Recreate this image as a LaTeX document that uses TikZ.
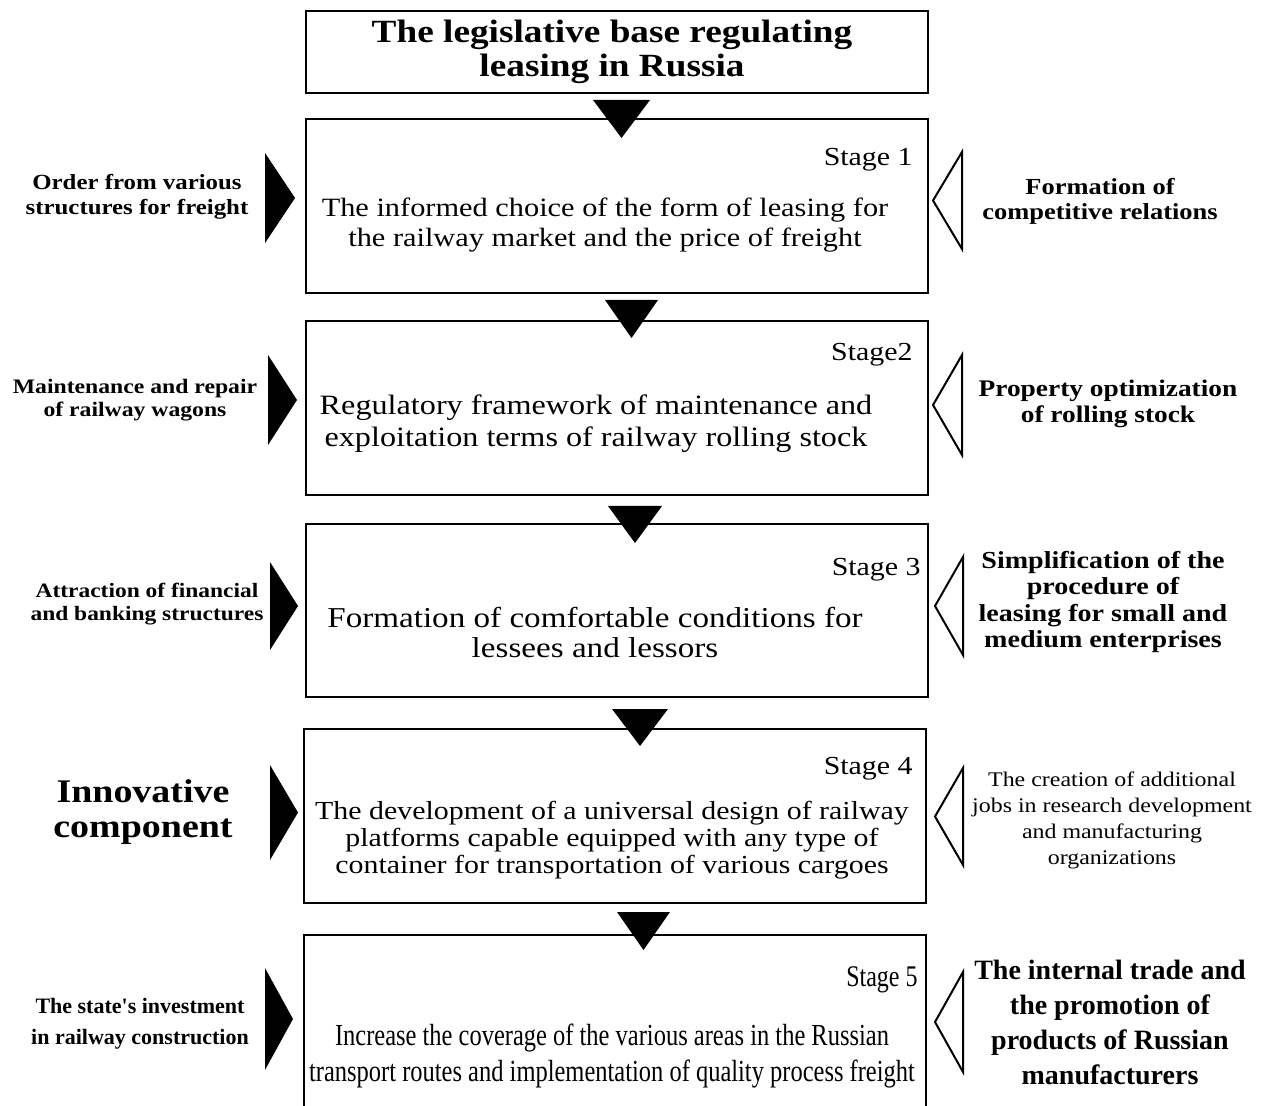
\documentclass[tikz,border=0pt]{standalone}
\usepackage{fontspec}
\setmainfont{Liberation Serif}
\newfontfamily\wideserif[FakeStretch=1.15]{Liberation Serif}
\newfontfamily\narrowserif[FakeStretch=0.8]{Liberation Serif}
\newcommand{\fsz}[2]{\fontsize{#1}{#2}\selectfont}
\tikzset{
    stagebox/.style={draw, line width=1.2pt, minimum width=311pt, minimum height=87pt, inner sep=0pt},
    stagetext/.style={align=center, inner sep=0pt, font=\wideserif\fsz{13.5}{15}},
    stagetag/.style={anchor=east, inner sep=0pt, font=\wideserif\fsz{13}{15}},
    sidetext/.style={align=center, inner sep=0pt, font=\wideserif\bfseries\fsz{11}{13}},
    downtri/.style={fill=black},
    intri/.style={fill=black},
    outtri/.style={draw=black, line width=1pt, fill=white, line join=miter},
}

\begin{document}
\begin{tikzpicture}[x=0.5pt, y=-0.5pt]
    \useasboundingbox (0,0) rectangle (1268,1106);

    % boxes
    \node[stagebox, minimum height=41pt] (T) at (617,52) {};
    \node[stagebox] (S1) at (617,206) {};
    \node[stagebox] (S2) at (617,408) {};
    \node[stagebox, minimum height=86.5pt] (S3) at (617,610.5) {};
    \node[stagebox] (S4) at (615,816) {};
    \node[stagebox] (S5) at (615,1022) {};

    % texts in boxes
    \node[stagetext, font=\wideserif\bfseries\fsz{16.2}{17}] (Ttext) at (612,51.5)
        {The legislative base regulating\\leasing in Russia};
    \node[stagetag] (S1tag) at (913,160) {Stage 1};
    \node[stagetext, font=\wideserif\fsz{13.2}{15}] (S1text) at (605,225)
        {The informed choice of the form of leasing for\\the railway market and the price of freight};
    \node[stagetag] (S2tag) at (913,355) {Stage2};
    \node[stagetext, font=\wideserif\fsz{14}{16}] (S2text) at (596,424)
        {Regulatory framework of maintenance and\\exploitation terms of railway rolling stock};
    \node[stagetag] (S3tag) at (921,570) {Stage 3};
    \node[stagetext, font=\wideserif\fsz{14.4}{15}] (S3text) at (595,633)
        {Formation of comfortable conditions for\\lessees and lessors};
    \node[stagetag] (S4tag) at (913,769) {Stage 4};
    \node[stagetext, font=\wideserif\fsz{13}{13.5}] (S4text) at (612,840)
        {The development of a universal design of railway\\platforms capable equipped with any type of\\container for transportation of various cargoes};
    \node[stagetag, font=\narrowserif\fsz{15}{18}] (S5tag) at (918,980) {Stage 5};
    \node[stagetext, font=\narrowserif\fsz{15.3}{18}] (S5text) at (612,1056)
        {Increase the coverage of the various areas in the Russian\\transport routes and implementation of quality process freight};

    % left side
    \node[sidetext, font=\wideserif\bfseries\fsz{10.8}{12.5}] (L1) at (137,196.5)
        {Order from various\\structures for freight};
    \node[sidetext, font=\wideserif\bfseries\fsz{10.3}{11.5}] (L2) at (135,400.5)
        {Maintenance and repair\\of railway wagons};
    \node[sidetext, font=\wideserif\bfseries\fsz{10.2}{11.5}] (L3) at (147,604.5)
        {Attraction of financial\\and banking structures};
    \node[sidetext, font=\wideserif\bfseries\fsz{16.5}{17.5}] (L4) at (143,812.5)
        {Innovative\\component};
    \node[sidetext, font=\bfseries\fsz{11}{15.5}] (L5) at (140,1023.5)
        {The state\textquotesingle s investment\\in railway construction};

    % right side
    \node[sidetext, font=\wideserif\bfseries\fsz{11.5}{12.5}] (R1) at (1100,201.5)
        {Formation of\\competitive relations};
    \node[sidetext, font=\wideserif\bfseries\fsz{11.9}{13}] (R2) at (1108,404)
        {Property optimization\\of rolling stock};
    \node[sidetext, font=\wideserif\bfseries\fsz{12.2}{13.3}] (R3) at (1103,602)
        {Simplification of the\\procedure of\\leasing for small and\\medium enterprises};
    \node[sidetext, font=\wideserif\fsz{10.4}{13}] (R4) at (1112,820.5)
        {The creation of additional\\jobs in research development\\and manufacturing\\organizations};
    \node[sidetext, font=\bfseries\fsz{14}{17.5}] (R5) at (1110,1022)
        {The internal trade and\\the promotion of\\products of Russian\\manufacturers};

    % triangles between boxes
    \foreach \xl/\xr/\yt/\yb in {593/650/100/138, 605/658/300/338, 608/662/506/543, 612/668/709/746, 617/670/912/950} {
        \fill[downtri] (\xl,\yt) -- (\xr,\yt) -- ({(\xl+\xr)/2},\yb) -- cycle;
    }
    % triangles on the left
    \foreach \xb/\xt/\yt/\yb in {265/295/153/243, 268/297/355/445, 270/298/562/650, 270/298/765/860, 265/293/968/1070} {
        \fill[intri] (\xb,\yt) -- (\xt,{(\yt+\yb)/2}) -- (\xb,\yb) -- cycle;
    }
    % triangles on the right
    \foreach \xt/\xb/\yt/\yb in {933/962/152/249, 933/962/355/455, 935/963/557/655, 935/963/768/865, 935/963/972/1072} {
        \draw[outtri] (\xb,\yt) -- (\xt,{(\yt+\yb)/2}) -- (\xb,\yb) -- cycle;
    }
\end{tikzpicture}
\end{document}
